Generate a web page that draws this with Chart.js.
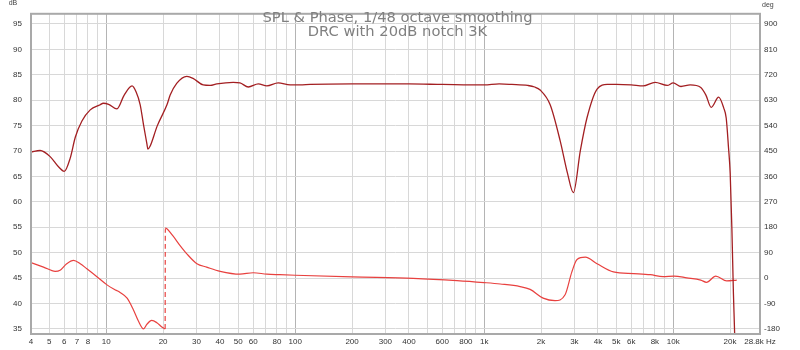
<!DOCTYPE html>
<html>
<head>
<meta charset="utf-8">
<script src="https://cdn.jsdelivr.net/npm/chart.js@4"></script>
<style>
  html, body { margin: 0; padding: 0; background: #fff; }
  #wrap { width: 800px; height: 350px; }
</style>
</head>
<body>
<div id="wrap"><canvas id="splPhase"></canvas></div>
<script>
// SPL & Phase, REW style, frequency on log axis
const magFreq = [4, 4.47, 5.05, 5.59, 6.0, 6.45, 6.86, 7.44, 8.23, 9.29,
  9.64, 10.3, 11.4, 12.45, 13.7, 14.4, 15.13, 15.75, 16.42, 16.6,
  17.09, 18.6, 20.96, 21.8, 23.6, 26.7, 28.8, 32.6, 35.5, 38.5,
  47, 51, 56.5, 63.8, 70.8, 81.3, 94, 106, 120, 200,
  400, 600, 1000, 1200, 1400, 1700, 1850, 1977, 2234, 2524,
  2760, 2964, 3227, 3497, 3956, 4477, 5000, 6000, 6930, 8030,
  9300, 10000, 11000, 12300, 14000, 14900, 15900, 17400, 18500, 19080,
  19620, 20030, 20450, 20840, 21150, 21400];
const magDb = [69.8, 70.1, 68.9, 66.9, 66.0, 68.6, 72.7, 75.9, 78.1, 79.1,
  79.4, 79.2, 78.3, 81.0, 82.8, 81.6, 79.1, 75.2, 71.4, 70.4,
  71.0, 74.9, 79.1, 81.0, 83.3, 84.7, 84.3, 83.0, 82.9, 83.2,
  83.5, 83.4, 82.6, 83.2, 82.8, 83.4, 83.0, 83.0, 83.1, 83.2,
  83.2, 83.1, 83.0, 83.2, 83.1, 82.9, 82.6, 82.0, 79.1, 72.0,
  65.6, 61.8, 70.1, 76.5, 82.2, 83.1, 83.1, 83.0, 82.8, 83.5,
  82.9, 83.4, 82.7, 83.0, 82.5, 81.0, 78.6, 80.6, 78.5, 76.5,
  70.7, 65.6, 54.6, 41.8, 34, 25];

const phaseFreq = [4, 4.66, 5.37, 5.7, 6.18, 6.72, 7.29, 7.9, 8.93, 10.1,
  11.2, 11.8, 12.9, 13.9, 14.8, 15.75, 16.4, 17.4, 18.54, 19.7,
  20.5, 20.55, 22.5, 24.6, 26.7, 30.2, 34, 40.1, 51, 60,
  70.8, 83, 100, 200, 421, 718, 1000, 1216, 1549, 1750,
  2050, 2370, 2680, 2910, 3100, 3430, 3956, 4830, 6180, 7570,
  8840, 10100, 11800, 14000, 15000, 16800, 19200, 21700];
const phaseDeg = [55, 39, 24, 28, 51, 63, 51, 33, 5, -24,
  -42, -50, -71, -111, -152, -180, -164, -150, -158, -173,
  -180, 177, 150, 115, 86, 51, 39, 24, 14, 19,
  14, 12, 10, 4, -1, -9, -16, -21, -30, -40,
  -71, -80, -59, 22, 66, 74, 51, 22, 16, 12,
  5, 7, 1, -7, -15, 7, -10, -7];

const freqTicks = [4, 5, 6, 7, 8, 9, 10, 20, 30, 40, 50, 60, 70, 80, 90,
  100, 200, 300, 400, 500, 600, 700, 800, 900,
  1000, 2000, 3000, 4000, 5000, 6000, 7000, 8000, 9000, 10000, 20000, 28800];
const freqLabels = {4: '4', 5: '5', 6: '6', 7: '7', 8: '8', 10: '10', 20: '20', 30: '30',
  40: '40', 50: '50', 60: '60', 80: '80', 100: '100', 200: '200', 300: '300',
  400: '400', 600: '600', 800: '800', 1000: '1k', 2000: '2k', 3000: '3k', 4000: '4k',
  5000: '5k', 6000: '6k', 8000: '8k', 10000: '10k', 20000: '20k', 28800: '28.8k Hz'};
const decades = [10, 100, 1000, 10000];
const dbTicks = [35, 40, 45, 50, 55, 60, 65, 70, 75, 80, 85, 90, 95];
const degTicks = [-180, -90, 0, 90, 180, 270, 360, 450, 540, 630, 720, 810, 900];

const tickFont = { family: 'Liberation Sans, Arial, sans-serif', size: 8 };

const framePlugin = {
  id: 'frame',
  afterDraw(chart) {
    const { ctx } = chart;
    const { left, top, right, bottom } = chart.chartArea;
    ctx.save();
    ctx.strokeStyle = '#a9a9a9';
    ctx.lineWidth = 2;
    ctx.strokeRect(left, top, right - left, bottom - top);

    // titel in het plotvlak
    ctx.fillStyle = '#808080';
    ctx.font = '14.7px "DejaVu Sans", sans-serif';
    ctx.textAlign = 'center';
    ctx.textBaseline = 'alphabetic';
    const cx = (left + right) / 2 + 2;
    ctx.fillText('SPL & Phase, 1/48 octave smoothing', cx, 22);
    ctx.fillText('DRC with 20dB notch 3K', cx, 36);

    // eenheden
    ctx.fillStyle = '#444';
    ctx.font = '7px "Liberation Sans", sans-serif';
    ctx.textAlign = 'center';
    ctx.fillText('dB', 13, 5);
    ctx.textAlign = 'left';
    ctx.fillText('deg', 762, 7);
    ctx.restore();
  }
};

new Chart(document.getElementById('splPhase'), {
  type: 'line',
  data: {
    datasets: [{
      label: 'SPL',
      data: magFreq.map((f, i) => ({ x: f, y: magDb[i] })),
      yAxisID: 'y',
      borderColor: '#a31f22',
      borderWidth: 1.3,
      pointRadius: 0,
      cubicInterpolationMode: 'monotone'
    }, {
      label: 'Phase',
      data: phaseFreq.map((f, i) => ({ x: f, y: phaseDeg[i] })),
      yAxisID: 'y1',
      borderColor: '#e8413f',
      borderWidth: 1.2,
      pointRadius: 0,
      cubicInterpolationMode: 'monotone',
      segment: {
        borderDash: ctx => Math.abs(ctx.p1.parsed.y - ctx.p0.parsed.y) > 250 ? [5, 3] : undefined
      }
    }]
  },
  options: {
    responsive: true,
    maintainAspectRatio: false,
    animation: false,
    layout: { padding: { top: 8, left: 0, right: 0, bottom: 0 } },
    plugins: {
      legend: { display: false },
      tooltip: { enabled: false }
    },
    scales: {
      x: {
        type: 'logarithmic',
        min: 4,
        max: 28800,
        afterBuildTicks: scale => { scale.ticks = freqTicks.map(v => ({ value: v })); },
        afterFit: scale => { scale.height = 16; },
        border: { display: false },
        grid: {
          drawTicks: false,
          color: ctx => decades.includes(ctx.tick && ctx.tick.value) ? '#b4b4b4' : '#d8d8d8'
        },
        ticks: {
          autoSkip: false,
          maxRotation: 0,
          padding: 3,
          color: '#333',
          font: tickFont,
          callback: value => freqLabels[value] || ''
        }
      },
      y: {
        position: 'left',
        min: 34,
        max: 97,
        afterBuildTicks: scale => { scale.ticks = dbTicks.map(v => ({ value: v })); },
        afterFit: scale => { scale.width = 31; },
        border: { display: false },
        grid: { drawTicks: false, color: '#d8d8d8' },
        ticks: { padding: 9, color: '#333', font: tickFont }
      },
      y1: {
        position: 'right',
        min: 18 * 34 - 810,
        max: 18 * 97 - 810,
        afterBuildTicks: scale => { scale.ticks = degTicks.map(v => ({ value: v })); },
        afterFit: scale => { scale.width = 40; },
        border: { display: false },
        grid: { display: false, drawTicks: false },
        ticks: { padding: 4, color: '#333', font: tickFont }
      }
    }
  },
  plugins: [framePlugin]
});
</script>
</body>
</html>
